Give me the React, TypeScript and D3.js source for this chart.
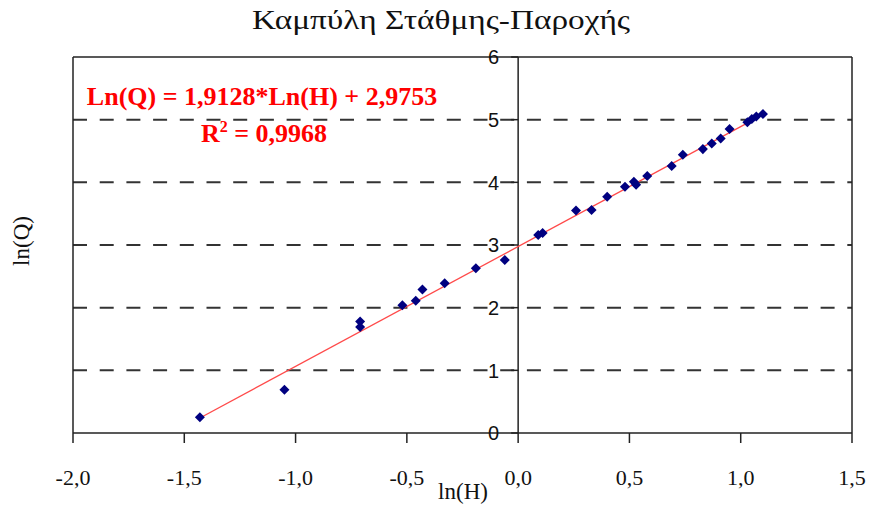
import React from "react";
import * as d3 from "d3";

const lnH = [-1.43, -1.05, -0.71, -0.71, -0.52, -0.46, -0.43, -0.33, -0.19, -0.06, 0.09, 0.11, 0.26, 0.33, 0.40, 0.48, 0.52, 0.53, 0.58, 0.69, 0.74, 0.83, 0.87, 0.91, 0.95, 1.03, 1.05, 1.07, 1.10];
const lnQ = [0.25, 0.69, 1.78, 1.69, 2.04, 2.11, 2.29, 2.39, 2.63, 2.76, 3.16, 3.19, 3.55, 3.56, 3.77, 3.93, 4.01, 3.96, 4.10, 4.26, 4.44, 4.53, 4.62, 4.70, 4.85, 4.96, 5.01, 5.05, 5.09];
const slope = 1.9128;
const intercept = 2.9753;
const xTicks = [-2.0, -1.5, -1.0, -0.5, 0.0, 0.5, 1.0, 1.5];
const yTicks = [0, 1, 2, 3, 4, 5, 6];
const gridValues = [1, 2, 3, 4, 5];

const W = 870, H = 508;
const L = 73, R = 852, T = 57, B = 433;

export default function App() {
  const x = d3.scaleLinear().domain([-2, 1.5]).range([L, R]);
  const y = d3.scaleLinear().domain([0, 6]).range([B, T]);
  const fmt = (v: number) => v.toFixed(1).replace(".", ",");
  const diamond = d3.symbol(d3.symbolDiamond2, 64)() as string;
  const xMin = d3.min(lnH) as number;
  const xMax = d3.max(lnH) as number;
  const trend = d3.line<number>().x((d) => x(d)).y((d) => y(slope * d + intercept))([xMin, xMax]) as string;
  const serif = "'Liberation Serif', 'Times New Roman', serif";
  const sans = "'Liberation Sans', Arial, sans-serif";
  return (
    <div style={{ position: "absolute", left: 0, top: 0 }}>
      <svg width={W} height={H} style={{ display: "block", background: "#fff" }}>
        <text x={441} y={29} textAnchor="middle" fontFamily={serif} fontSize={28} fill="#111" textLength={378} lengthAdjust="spacingAndGlyphs">
          Καμπύλη Στάθμης-Παροχής
        </text>
        {gridValues.map((g) => (
          <line key={g} x1={L} x2={R} y1={y(g)} y2={y(g)} stroke="#333" strokeWidth={2} strokeDasharray="14,12.7" />
        ))}
        {/* frame */}
        <line x1={L} x2={R} y1={T} y2={T} stroke="#222" strokeWidth={1.5} />
        <line x1={L} x2={L} y1={T} y2={B} stroke="#222" strokeWidth={1.5} />
        <line x1={R} x2={R} y1={T} y2={B} stroke="#222" strokeWidth={1.5} />
        {/* x axis */}
        <line x1={L} x2={R} y1={B} y2={B} stroke="#222" strokeWidth={1.5} />
        {xTicks.map((t) => (
          <g key={t}>
            <line x1={x(t)} x2={x(t)} y1={B} y2={B + 10} stroke="#222" strokeWidth={1.5} />
            <text x={x(t)} y={485} textAnchor="middle" fontFamily={serif} fontSize={22} fill="#111">
              {fmt(t)}
            </text>
          </g>
        ))}
        {/* y axis at x=0 */}
        <line x1={x(0)} x2={x(0)} y1={T} y2={B} stroke="#222" strokeWidth={1.5} />
        {yTicks.map((t) => (
          <g key={t}>
            <line x1={x(0) - 7} x2={x(0)} y1={y(t)} y2={y(t)} stroke="#222" strokeWidth={1.5} />
            <text x={499} y={y(t)} dy="0.36em" textAnchor="end" fontFamily={sans} fontSize={20} fill="#111">
              {t}
            </text>
          </g>
        ))}
        <path d={trend} fill="none" stroke="#ff4a4a" strokeWidth={1.3} />
        {lnH.map((v, i) => (
          <path key={i} d={diamond} transform={`translate(${x(v)},${y(lnQ[i])})`} fill="#000080" />
        ))}
        <text x={262} y={105} textAnchor="middle" fontFamily={serif} fontWeight="bold" fontSize={26} fill="#ff0000">
          Ln(Q) = 1,9128*Ln(H) + 2,9753
        </text>
        <text x={264} y={142} textAnchor="middle" fontFamily={serif} fontWeight="bold" fontSize={26} fill="#ff0000">
          R<tspan dy={-10} fontSize={16}>2</tspan>
          <tspan dy={10}> = 0,9968</tspan>
        </text>
        <text x={463} y={499} textAnchor="middle" fontFamily={serif} fontSize={23} fill="#111">
          ln(H)
        </text>
        <text transform="translate(29,241) rotate(-90)" textAnchor="middle" fontFamily={serif} fontSize={23} fill="#111">
          ln(Q)
        </text>
      </svg>
    </div>
  );
}
